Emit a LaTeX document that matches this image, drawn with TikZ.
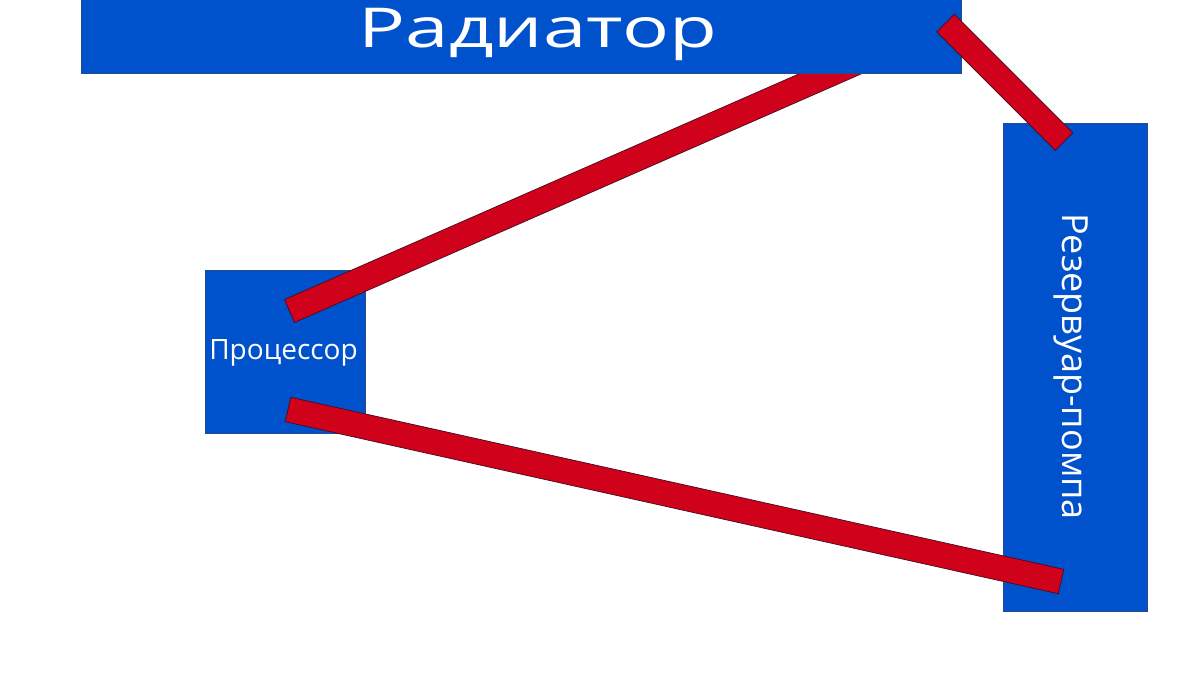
\documentclass[tikz,border=0pt]{standalone}
\usepackage{fontspec}
\setmainfont{Open Sans}
\usetikzlibrary{calc}
\definecolor{boxblue}{RGB}{0,82,204}
\definecolor{boxedge}{RGB}{40,75,140}
\definecolor{tubered}{RGB}{208,2,27}
\definecolor{tubeedge}{RGB}{70,10,30}
\tikzset{
  blockbox/.style={fill=boxblue, draw=boxedge, line width=0.8pt},
  tube/.style={fill=tubered, draw=tubeedge, line width=0.7pt, line join=miter},
  lbl/.style={text=white, inner sep=0pt, anchor=base},
}
\newcommand{\tubepath}[2]{%
  \draw[tube] ($(#1)!12.5pt!90:(#2)$) -- ($(#2)!12.5pt!-90:(#1)$) -- ($(#2)!12.5pt!90:(#1)$) -- ($(#1)!12.5pt!-90:(#2)$) -- cycle;}
\begin{document}
\begin{tikzpicture}[x=1pt,y=-1pt]
\useasboundingbox[fill=white] (0,0) rectangle (1200,675);
% processor and reservoir
\node[blockbox, minimum width=160pt, minimum height=163pt, inner sep=0pt, anchor=north west] (cpu) at (205,270) {};
\node[blockbox, minimum width=144pt, minimum height=488pt, inner sep=0pt, anchor=north west] (res) at (1003,123) {};
% tube endpoints
\coordinate (t1a) at (945.5,23);
\coordinate (t1b) at (1064,141.5);
\coordinate (t2a) at (289.5,311);
\coordinate (t2b) at (880,52);
\coordinate (t3a) at (288,409.5);
\coordinate (t3b) at (1061,581.5);
% tube from processor to radiator (beneath radiator)
\tubepath{t2a}{t2b}
% radiator
\node[blockbox, minimum width=880pt, minimum height=75pt, inner sep=0pt, anchor=north west] (rad) at (81,-2) {};
% other tubes
\tubepath{t1a}{t1b}
\tubepath{t3a}{t3b}
% labels
\node[lbl, font=\fontsize{55}{56}\selectfont] (radl) at (538,47) {\scalebox{1.42}[1]{Радиатор}};
\node[lbl, font=\fontsize{28}{30}\selectfont] (cpul) at (283.5,359) {Процессор};
\node[lbl, font=\fontsize{36}{38}\selectfont, rotate=-90] (resl) at (1062,366.5) {Резервуар-помпа};
\end{tikzpicture}
\end{document}
